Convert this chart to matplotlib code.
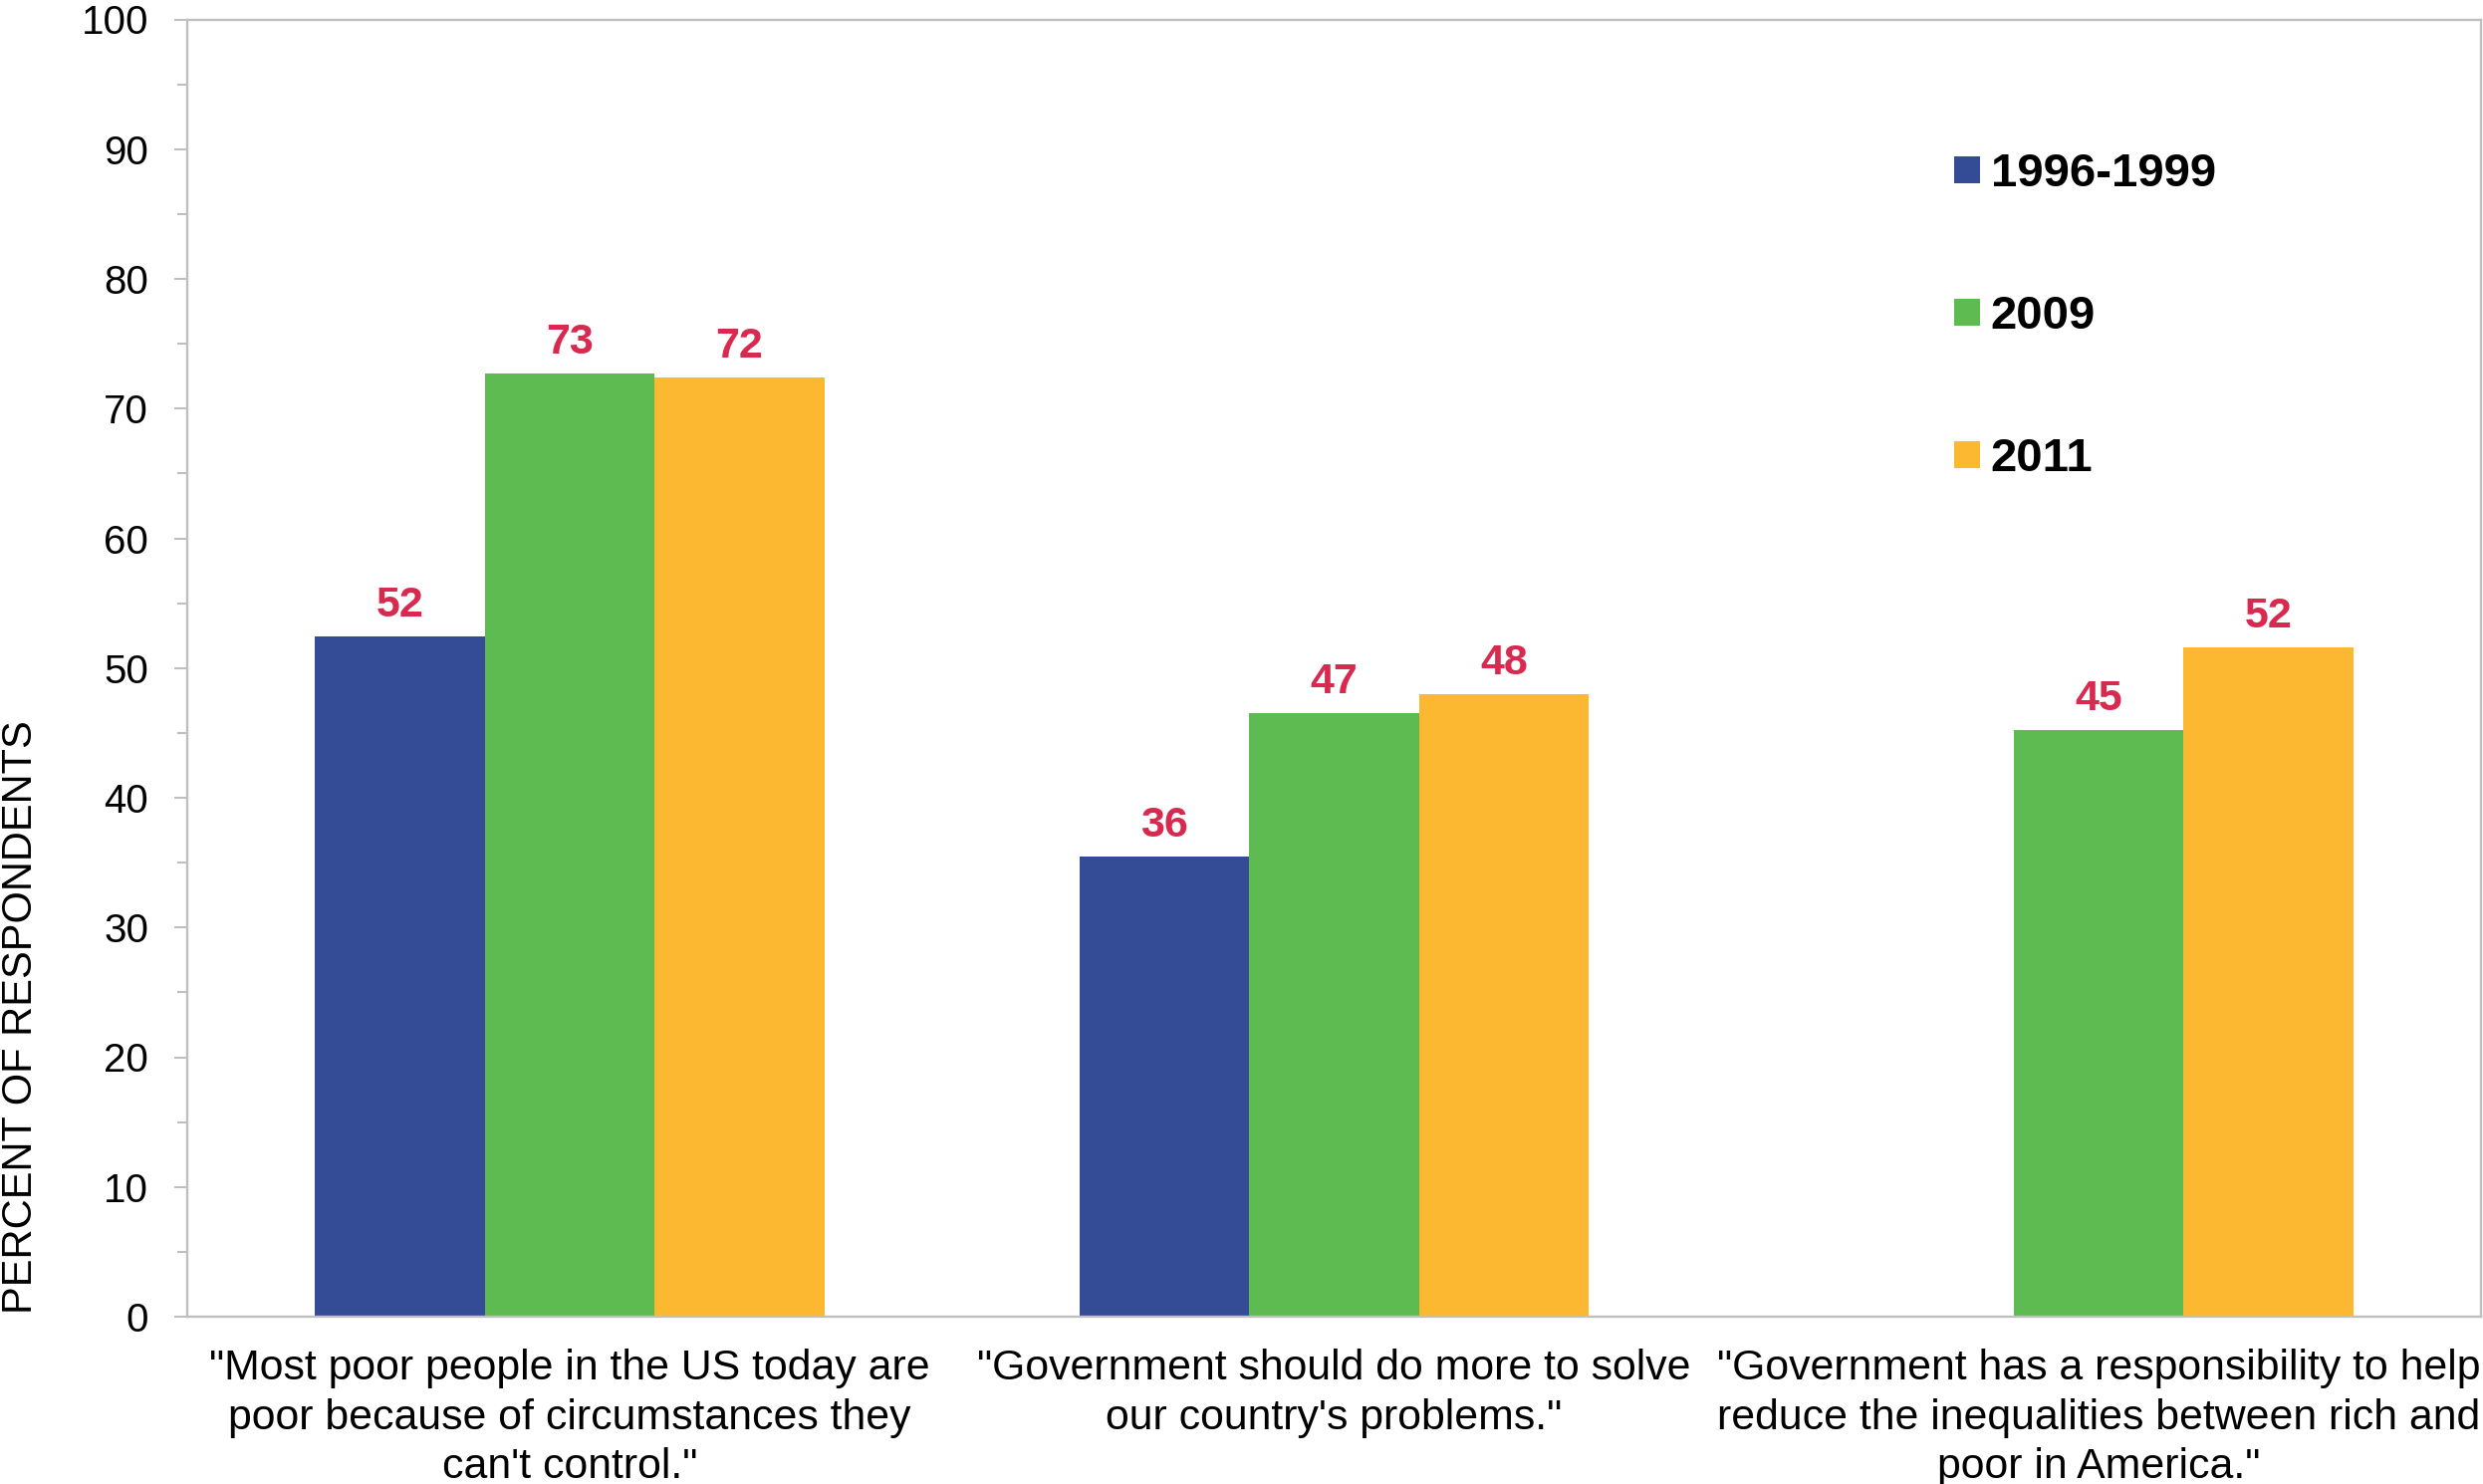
import numpy as np
import matplotlib
matplotlib.use("Agg")
import matplotlib.pyplot as plt
from matplotlib.ticker import MultipleLocator
from matplotlib.patches import Patch

plt.rcParams['font.family'] = ['Liberation Sans', 'DejaVu Sans']

categories = [
    '"Most poor people in the US today are\npoor because of circumstances they\ncan\'t control."',
    '"Government should do more to solve\nour country\'s problems."',
    '"Government has a responsibility to help\nreduce the inequalities between rich and\npoor in America."',
]
series_names = ["1996-1999", "2009", "2011"]
values_1996_1999 = [52.4, 35.5, np.nan]
values_2009 = [72.7, 46.5, 45.2]
values_2011 = [72.4, 48.0, 51.6]
labels_1996_1999 = ["52", "36", ""]
labels_2009 = ["73", "47", "45"]
labels_2011 = ["72", "48", "52"]
colors = ["#344B95", "#5EBB51", "#FCB830"]
label_color = "#D8294F"
grey = "#BFBFBF"

W, H = 2493, 1490
fig = plt.figure(figsize=(W / 100, H / 100), dpi=100)
ax = fig.add_axes([188 / W, (H - 1322) / H, (2491 - 188) / W, (1322 - 19.5) / H])

x = np.arange(len(categories))
w = 0.2222
series = [values_1996_1999, values_2009, values_2011]
labels = [labels_1996_1999, labels_2009, labels_2011]
for j, (vals, labs) in enumerate(zip(series, labels)):
    pos = x + (j - 1) * w
    ax.bar(pos, vals, width=w, color=colors[j], linewidth=0)
    for xi, v, lab in zip(pos, vals, labs):
        if np.isnan(v) or not lab:
            continue
        ax.annotate(lab, (xi, v), xytext=(0, 14.4), textcoords='offset points',
                    ha='center', va='baseline', fontsize=31, fontweight='bold',
                    color=label_color)

ax.set_xlim(-0.5, 2.5)
ax.set_ylim(0, 100)
ax.yaxis.set_major_locator(MultipleLocator(10))
ax.yaxis.set_minor_locator(MultipleLocator(5))
ax.tick_params(axis='y', which='major', length=9.4, width=1.5, color=grey,
               labelsize=29, pad=18.7)
ax.tick_params(axis='y', which='minor', length=7.2, width=1.5, color=grey)
ax.set_xticks(x)
ax.set_xticklabels(categories, fontsize=30.8, linespacing=1.31)
ax.tick_params(axis='x', length=0, pad=23)
for s in ax.spines.values():
    s.set_color(grey)
    s.set_linewidth(1.7)

ax.set_ylabel("PERCENT OF RESPONDENTS", fontsize=30, va='center')
ax.yaxis.set_label_coords((21 - 188) / (2491 - 188), (1322 - 1021) / (1322 - 19.5))

handles = [Patch(facecolor=c, edgecolor='none') for c in colors]
leg = ax.legend(handles, series_names, loc='upper left',
                bbox_to_anchor=(1962 / W, (H - 153) / H), bbox_transform=fig.transFigure,
                frameon=False, prop={'size': 34, 'weight': 'bold'},
                handlelength=0.55, handleheight=0.51, handletextpad=0.23,
                labelspacing=2.1, borderpad=0, borderaxespad=0)

fig.savefig("out.png", dpi=100)
